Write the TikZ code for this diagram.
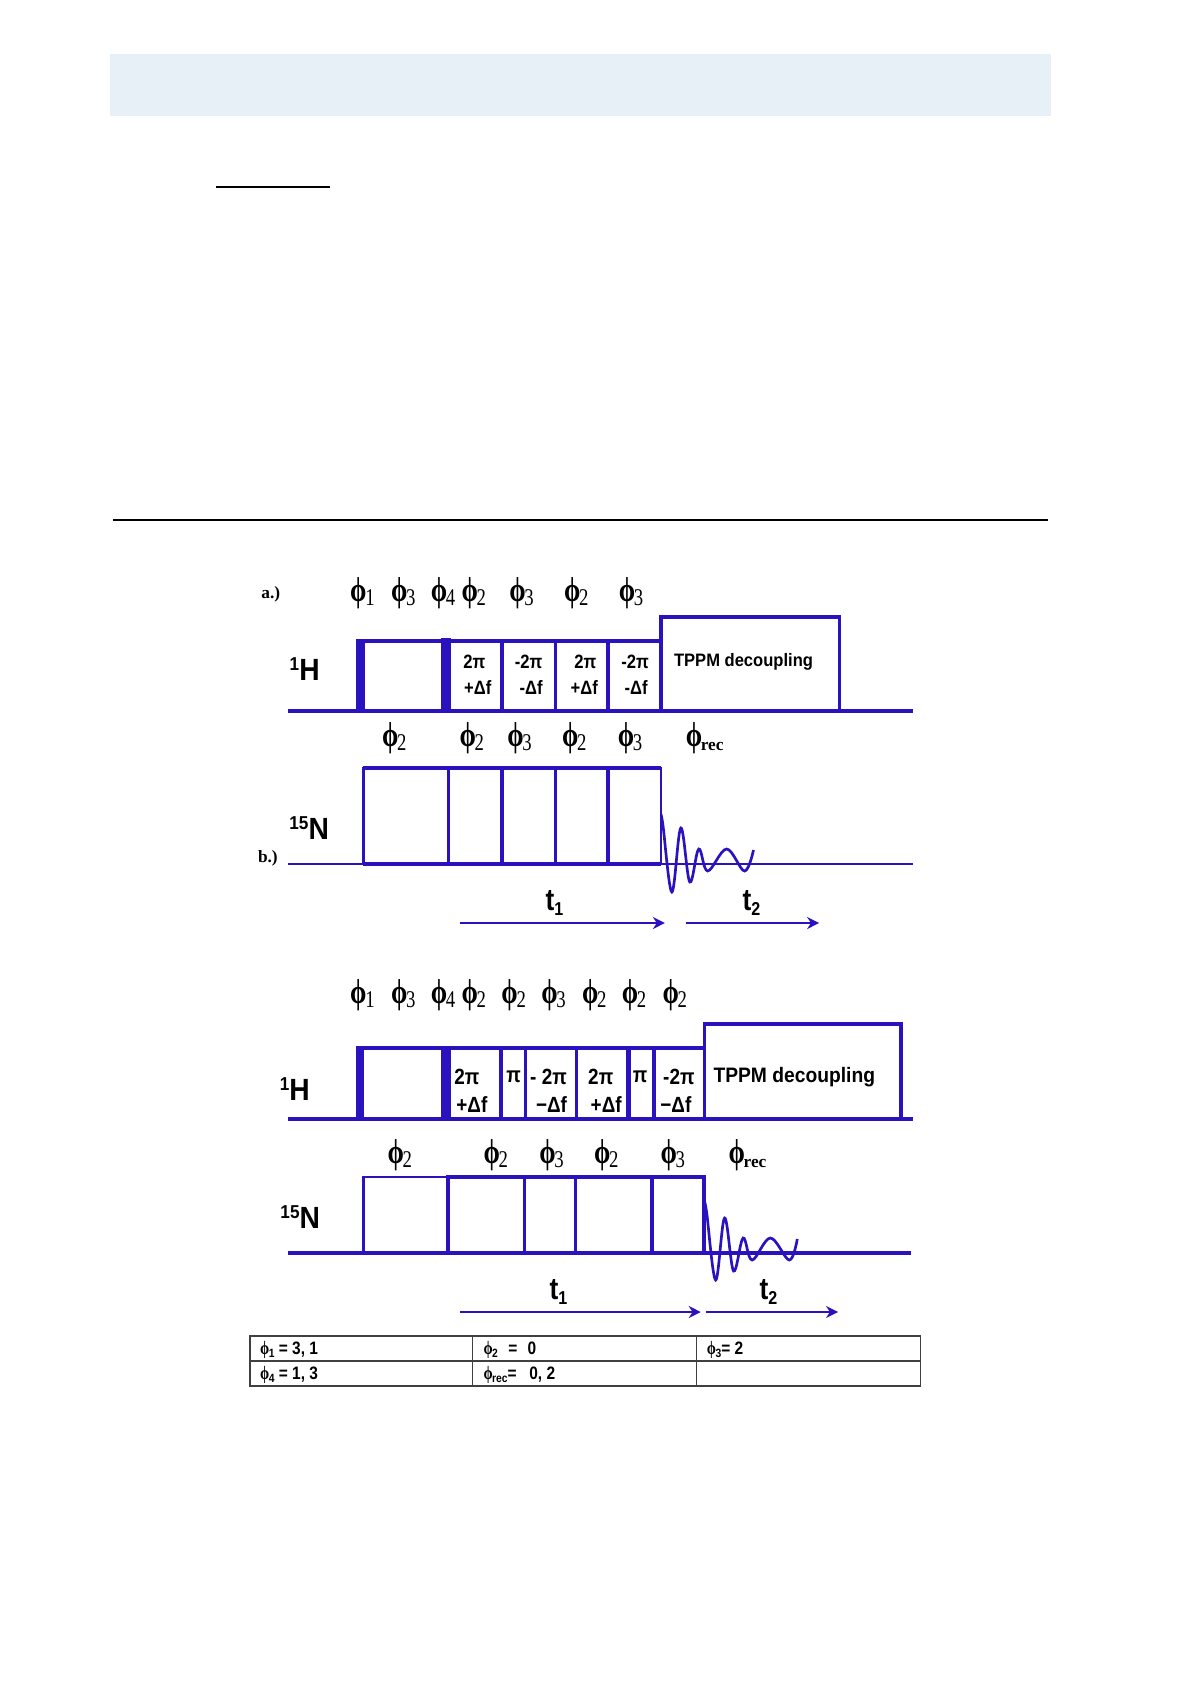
\documentclass[tikz,border=0pt]{standalone}
\usepackage{fontspec}
\setmainfont{Liberation Sans}
\newfontfamily\serifphi{Liberation Serif}
\usetikzlibrary{arrows.meta}
\definecolor{nmr}{HTML}{2A12BE}
\definecolor{band}{HTML}{E8F0F7}
\newcommand\phisym{{\serifphi\bfseries\scalebox{.82}[1.08]{\fontsize{24}{24}\selectfont ϕ}}}
\newcommand\ph[1]{\phisym\hspace{-1pt}\raisebox{-3.5pt}{\serifphi\scalebox{.78}[1]{\fontsize{18}{18}\selectfont #1}}}
\newcommand\phr{\phisym\hspace{-1pt}\raisebox{-3pt}{\serifphi\bfseries\fontsize{13}{13}\selectfont rec}}
\newcommand\sph[1]{{\serifphi\bfseries\scalebox{.95}[1.05]{\fontsize{13.5}{13.5}\selectfont ϕ}}\hspace{-.5pt}\raisebox{-2.5pt}{\fontsize{9}{9}\selectfont #1}}
\newcommand\nar[1]{\scalebox{.86}[1]{#1}}
\newcommand\wid[1]{\scalebox{.92}[1]{#1}}
\newcommand\nucl[2]{\scalebox{.92}[1]{\raisebox{8pt}{\fontsize{14}{14}\selectfont #1}#2}}
\tikzset{
  base/.style={color=nmr,line width=3.2pt,line cap=butt},
  thin pulse/.style={color=nmr,line width=2pt,line join=miter},
  pulse/.style={color=nmr,line width=2.7pt,line join=miter},
  lab/.style={inner sep=0pt,text=black},
  nuc/.style={inner sep=0pt,text=black,font=\fontsize{23}{23}\selectfont\bfseries},
  inA/.style={inner sep=0pt,text=black,font=\fontsize{14.5}{15}\selectfont\bfseries},
  inB/.style={inner sep=0pt,text=black,font=\fontsize{16.5}{17}\selectfont\bfseries},
  time/.style={inner sep=0pt,text=black,font=\fontsize{23}{23}\selectfont\bfseries},
  tarrow/.style={color=nmr,line width=2.1pt,-{Stealth[length=9pt,width=9pt]}},
  fid/.style={color=nmr,line width=2pt},
  tbl/.style={color=black!75,line width=.9pt},
  tcell/.style={inner sep=0pt,anchor=west,text=black,font=\fontsize{13.5}{14}\selectfont\bfseries}
}
\begin{document}
\begin{tikzpicture}[x=.75pt,y=-.75pt]
\useasboundingbox (0,0) rectangle (1190,1684);
% page furniture
\fill[band] (110,54) rectangle (1051,116);
\coordinate (ul1) at (216,187); \coordinate (ul2) at (330,187);
\draw[black,line width=.9pt] (ul1) -- (ul2);
\coordinate (rl1) at (113,520); \coordinate (rl2) at (1048,520);
\draw[black,line width=1.2pt] (rl1) -- (rl2);

\begin{scope}[shift={(1.2,0)},x=.7463pt]
% ---------- panel a, 1H
\draw[pulse] (357,641) -- (663,641);
\draw[pulse] (663,711) -- (663,617) -- (842.5,617) -- (842.5,711);
\fill[nmr] (357,639.3) rectangle (366,711);
\fill[nmr] (442,638) rectangle (452,711);
\foreach \x in {503,557,610}{\draw[pulse] (\x,641) -- (\x,711);}
\draw[base] (288,711) -- (916,711);
% panel a, 15N
\draw[thin pulse] (364,864) -- (364,768) -- (663,768) -- (663,864);
\draw[pulse] (364,768) -- (663,768);
\foreach \x in {449.5,503,557,610}{\draw[pulse] (\x,768) -- (\x,864);}
\draw[thin pulse] (288,864) -- (916,864);
\draw[pulse] (364,864) -- (663,864);
\draw[fid] plot[smooth,tension=.6] coordinates {(663,815) (665,825) (674,892) (683,828) (692,882) (701,849) (710,871) (729,849) (747,871) (756,850)};

\node[lab] (aa) at (271,594) {\serifphi\bfseries\fontsize{13}{13}\selectfont a.)};
\node[lab] (ab) at (268,858) {\serifphi\bfseries\fontsize{13}{13}\selectfont b.)};
\node[nuc] (aH) at (305,669) {\nucl{1}{H}};
\node[nuc] (aN) at (309.5,828) {\nucl{15}{N}};
\node[lab] (ap1) at (363,593) {\ph{1}};
\node[lab] (ap2) at (404,593) {\ph{3}};
\node[lab] (ap3) at (444,593) {\ph{4}};
\node[lab] (ap4) at (475,593) {\ph{2}};
\node[lab] (ap5) at (523,593) {\ph{3}};
\node[lab] (ap6) at (578,593) {\ph{2}};
\node[lab] (ap7) at (633,593) {\ph{3}};
\node[lab] (aq1) at (395,738) {\ph{2}};
\node[lab] (aq2) at (473,738) {\ph{2}};
\node[lab] (aq3) at (521,738) {\ph{3}};
\node[lab] (aq4) at (576,738) {\ph{2}};
\node[lab] (aq5) at (632,738) {\ph{3}};
\node[lab] (aq6) at (707,738) {\phr};
\node[inA] (ax1) at (475.5,662) {\nar{2π}};
\node[inA] (ay1) at (479,687) {\nar{+Δf}};
\node[inA] (ax2) at (530,662) {\nar{-2π}};
\node[inA] (ay2) at (532.5,687) {\nar{-Δf}};
\node[inA] (ax3) at (587,662) {\nar{2π}};
\node[inA] (ay3) at (586,687) {\nar{+Δf}};
\node[inA] (ax4) at (637,662) {\nar{-2π}};
\node[inA] (ay4) at (638,687) {\nar{-Δf}};
\node[inner sep=0pt,text=black,font=\fontsize{13.5}{14}\selectfont\bfseries] (atp) at (746,662) {\wid{TPPM decoupling}};
\coordinate (as1) at (461,923); \coordinate (ae1) at (667,923);
\coordinate (as2) at (688,923); \coordinate (ae2) at (822,923);
\draw[tarrow] (as1) -- (ae1);
\draw[tarrow] (as2) -- (ae2);
\node[time] (at1) at (556,903) {\nar{t\raisebox{-4pt}{\fontsize{14}{14}\selectfont 1}}};
\node[time] (at2) at (754,903) {\nar{t\raisebox{-4pt}{\fontsize{14}{14}\selectfont 2}}};

% ---------- panel b, 1H
\draw[pulse] (357,1048) -- (706.6,1048);
\draw[pulse] (706.6,1119) -- (706.6,1024) -- (904,1024) -- (904,1119);
\fill[nmr] (357,1046.5) rectangle (365,1119);
\fill[nmr] (442,1046.5) rectangle (452,1119);
\foreach \x in {502,527,578,656}{\draw[pulse] (\x,1048) -- (\x,1119);}
\fill[nmr] (628,1047) rectangle (632.5,1119);
\draw[base] (288,1119) -- (916,1119);
% panel b, 15N
\draw[thin pulse] (364,1253) -- (364,1177) -- (449,1177);
\draw[pulse,line width=3.2pt] (449,1253) -- (449,1177) -- (706.6,1177) -- (706.6,1253);
\foreach \x in {526,577,654}{\draw[pulse] (\x,1177) -- (\x,1253);}
\draw[base] (288,1253) -- (914,1253);
\draw[fid] plot[smooth,tension=.6] coordinates {(707,1203) (709,1213) (718,1280) (727,1218) (736,1271) (745.6,1238) (754.6,1260) (773,1238) (792,1260) (800,1239)};

\node[nuc] (bH) at (295,1089) {\nucl{1}{H}};
\node[nuc] (bN) at (300.5,1217) {\nucl{15}{N}};
\node[lab] (bp1) at (363,995) {\ph{1}};
\node[lab] (bp2) at (404,995) {\ph{3}};
\node[lab] (bp3) at (444,995) {\ph{4}};
\node[lab] (bp4) at (475,995) {\ph{2}};
\node[lab] (bp5) at (515,995) {\ph{2}};
\node[lab] (bp6) at (555,995) {\ph{3}};
\node[lab] (bp7) at (596,995) {\ph{2}};
\node[lab] (bp8) at (636,995) {\ph{2}};
\node[lab] (bp9) at (677,995) {\ph{2}};
\node[lab] (bq1) at (400.6,1155) {\ph{2}};
\node[lab] (bq2) at (497,1155) {\ph{2}};
\node[lab] (bq3) at (553,1155) {\ph{3}};
\node[lab] (bq4) at (608,1155) {\ph{2}};
\node[lab] (bq5) at (675,1155) {\ph{3}};
\node[lab] (bq6) at (750,1155) {\phr};
\node[inB] (bx1) at (468,1077) {\nar{2π}};
\node[inB] (by1) at (473,1105) {\nar{+Δf}};
\node[inB] (bx2) at (515,1077) {\nar{π}};
\node[inB] (bx3) at (550,1077) {\nar{- 2π}};
\node[inB] (by3) at (553,1105) {\nar{−Δf}};
\node[inB] (bx4) at (602.5,1077) {\nar{2π}};
\node[inB] (by4) at (608,1105) {\nar{+Δf}};
\node[inB] (bx5) at (642,1077) {\nar{π}};
\node[inB] (bx6) at (681,1077) {\nar{-2π}};
\node[inB] (by6) at (678,1105) {\nar{−Δf}};
\node[inner sep=0pt,text=black,font=\fontsize{15.7}{16}\selectfont\bfseries] (btp) at (797,1077) {\wid{TPPM decoupling}};
\coordinate (bs1) at (461,1312); \coordinate (be1) at (703,1312);
\coordinate (bs2) at (708,1312); \coordinate (be2) at (841,1312);
\draw[tarrow] (bs1) -- (be1);
\draw[tarrow] (bs2) -- (be2);
\node[time] (bt1) at (560,1292) {\nar{t\raisebox{-4pt}{\fontsize{14}{14}\selectfont 1}}};
\node[time] (bt2) at (771,1292) {\nar{t\raisebox{-4pt}{\fontsize{14}{14}\selectfont 2}}};

% ---------- table
\draw[tbl] (250,1336) rectangle (924,1386);
\draw[tbl] (250,1361) -- (924,1361);
\draw[tbl] (474,1336) -- (474,1386);
\draw[tbl] (699,1336) -- (699,1386);
\node[tcell] (c1) at (260,1350) {\nar{\sph{1} = 3, 1}};
\node[tcell] (c2) at (484.5,1350) {\nar{\sph{2}\hspace{9pt}=\hspace{9pt}0}};
\node[tcell] (c3) at (709,1350) {\nar{\sph{3}= 2}};
\node[tcell] (c4) at (260,1375) {\nar{\sph{4} = 1, 3}};
\node[tcell] (c5) at (484.5,1375) {\nar{\sph{rec}=\hspace{11pt}0, 2}};
\end{scope}
\end{tikzpicture}
\end{document}
